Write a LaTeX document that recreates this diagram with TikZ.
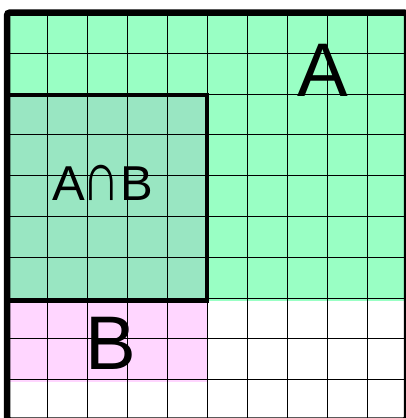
\documentclass[tikz,border=0pt]{standalone}
\usepackage{fontspec}
\setmainfont{Liberation Sans}
\definecolor{agreen}{RGB}{153,255,196}
\definecolor{abgreen}{RGB}{153,230,194}
\definecolor{bpink}{RGB}{255,214,255}
\begin{document}
\begin{tikzpicture}[x=1pt,y=-1pt,
  gridline/.style={line width=1pt,black},
  thickborder/.style={line width=6.5pt,black,rounded corners=3pt},
  setborder/.style={line width=3.6pt,black,line join=miter},
  biglabel/.style={font=\fontsize{76}{76}\selectfont,inner sep=0pt,anchor=center},
  midlabel/.style={font=\fontsize{49}{49}\selectfont,inner sep=0pt,anchor=base}]
\useasboundingbox (0,0) rectangle (406,418);
\begin{scope}
\clip (0,0) rectangle (406,418);
% fills
\fill[agreen] (7,12.5) rectangle (407,301);
\fill[abgreen] (7,95) rectangle (207,301);
\fill[bpink] (7,301) rectangle (207,382.2);
% grid
\foreach \i in {1,...,9} {
  \draw[gridline] (7+40*\i,12.5) -- (7+40*\i,420.5);
  \draw[gridline] (7,12.5+40.8*\i) -- (407,12.5+40.8*\i);
}
% A cap B
\draw[setborder] (7,95) rectangle (207,301);
% outer border
\draw[thickborder] (7,12.5) rectangle (407,420.5);
\end{scope}
\node[midlabel] (labAB) at (103,200) {A\kern-3pt\scalebox{0.75}[1]{\fontsize{70}{70}\selectfont ∩}\kern1ptB};
\node[biglabel] (labA) at (323,70) {A};
\node[biglabel] (labB) at (111,343) {B};
\end{tikzpicture}
\end{document}
